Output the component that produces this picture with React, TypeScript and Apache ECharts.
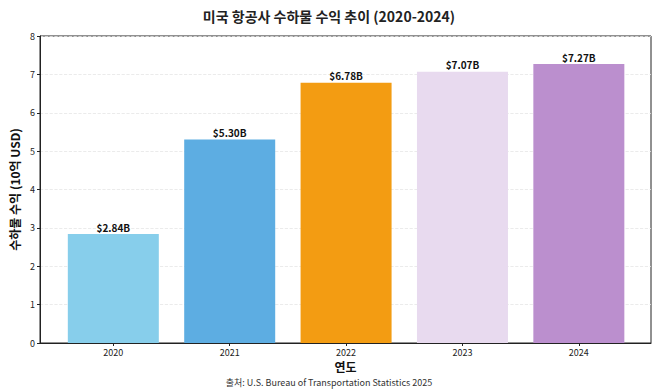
import React, { useEffect, useRef } from "react";
import * as echarts from "echarts";

const years = ["2020", "2021", "2022", "2023", "2024"];
const revenues = [2.84, 5.3, 6.78, 7.07, 7.27];
const barColors = ["#87CEEB", "#5DADE2", "#F39C12", "#E8DAEF", "#BB8FCE"];
const yTicks = [0, 1, 2, 3, 4, 5, 6, 7, 8];

const FONT = "'Noto Sans CJK KR', 'Noto Sans', sans-serif";

export default function App() {
  const ref = useRef<HTMLDivElement>(null);
  useEffect(() => {
    if (!ref.current) return;
    const chart = echarts.init(ref.current, null, { renderer: "svg" });
    const positions = years.map((_, i) => i);
    chart.setOption({
      animation: false,
      textStyle: { fontFamily: FONT },
      title: {
        text: "미국 항공사 수하물 수익 추이 (2020-2024)",
        left: "center",
        top: 4,
        textStyle: { fontFamily: FONT, fontSize: 14, fontWeight: "bold", color: "#222" },
      },
      graphic: [
        {
          type: "text",
          left: "center",
          top: 378,
          style: {
            text: "출처: U.S. Bureau of Transportation Statistics 2025",
            font: `9px ${FONT}`,
            fill: "#333",
          },
        },
      ],
      grid: { left: 34, right: 7, top: 36, bottom: 49, show: true, borderColor: "#222", borderWidth: 1, backgroundColor: "transparent" },
      xAxis: {
        type: "value",
        min: -0.63,
        max: 4.62,
        name: "연도",
        nameLocation: "middle",
        nameGap: 17,
        nameMoveOverlap: false,
        nameTextStyle: { fontFamily: FONT, fontSize: 12, fontWeight: "bold", color: "#111", lineHeight: 12 },
        axisLine: { show: true, onZero: false, lineStyle: { color: "#222" } },
        axisTick: { show: true, customValues: positions, length: 3, lineStyle: { color: "#222" } },
        axisLabel: {
          customValues: positions,
          formatter: (v: number) => years[Math.round(v)] ?? "",
          fontSize: 9,
          lineHeight: 10,
          color: "#222",
          margin: 4,
        },
        splitLine: { show: false },
      },
      yAxis: {
        type: "value",
        min: 0,
        max: 8,
        interval: 1,
        name: "수하물 수익 (10억 USD)",
        nameLocation: "middle",
        nameGap: 20,
        nameMoveOverlap: false,
        nameTextStyle: { fontFamily: FONT, fontSize: 12, fontWeight: "bold", color: "#111" },
        axisLine: { show: true, onZero: false, lineStyle: { color: "#222" } },
        axisTick: { show: true, length: 3, lineStyle: { color: "#222" } },
        axisLabel: {
          fontSize: 9,
          color: "#222",
          margin: 5,
          formatter: (v: number) => (yTicks.includes(v) ? String(v) : ""),
        },
        splitLine: { show: true, lineStyle: { color: "#e6e6e6", type: "dashed", width: 0.8 } },
      },
      series: [
        {
          type: "bar",
          barWidth: 91,
          data: revenues.map((v, i) => ({
            value: [i, v],
            itemStyle: { color: barColors[i], opacity: 1 },
          })),
          label: {
            show: true,
            position: "top",
            distance: 2,
            formatter: (p: any) => `$${p.value[1].toFixed(2)}B`,
            fontFamily: FONT,
            fontSize: 10,
            fontWeight: "bold",
            color: "#111",
          },
        },
      ],
    });
    return () => chart.dispose();
  }, []);
  return <div ref={ref} style={{ width: 658, height: 392, position: "absolute", left: 0, top: 0 }} />;
}
